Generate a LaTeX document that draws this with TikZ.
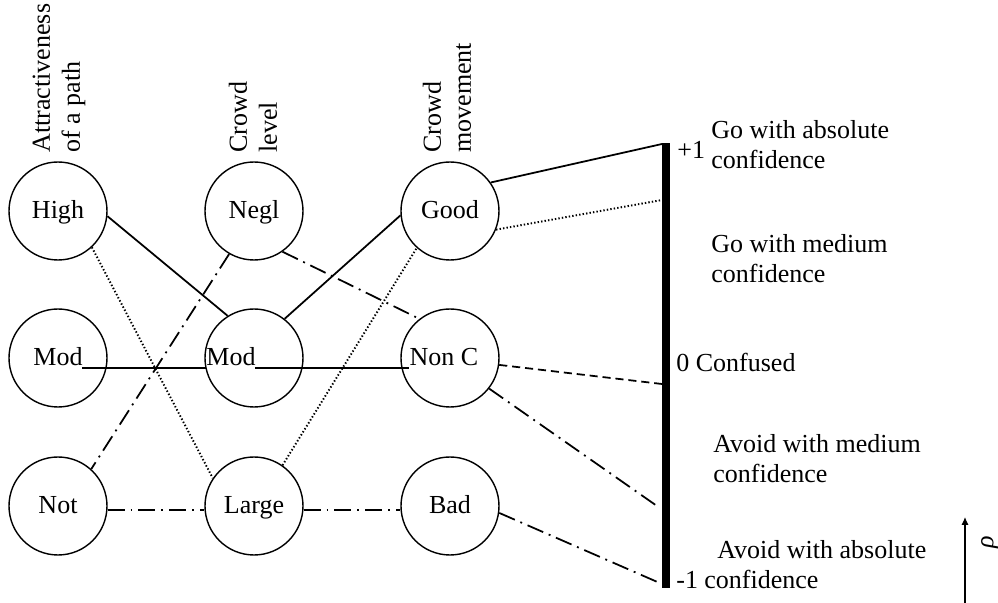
\documentclass[tikz,border=0pt]{standalone}
\usepackage{fontspec}
\setmainfont{Liberation Serif}
\usetikzlibrary{arrows.meta}

\tikzset{
  state/.style={draw, circle, line width=0.8pt, minimum size=1.96cm, inner sep=0pt},
  every label/.style={inner sep=0pt, text height=0.8em, text depth=0pt},
  link/.style={line width=1pt},
  dots/.style={line width=1.1pt, dash pattern=on 0.8pt off 1.2pt},
  dashes/.style={line width=1pt, dash pattern=on 4.6pt off 2.8pt},
  dashdot/.style={line width=1pt, dash pattern=on 9.7pt off 3.4pt on 1.1pt off 3.4pt},
  heading/.style={rotate=90, anchor=west, align=left, inner sep=0pt},
  verdict/.style={anchor=north west, align=left, inner sep=0pt},
  mark label/.style={anchor=west, inner sep=0pt}
}

\begin{document}
\begin{tikzpicture}[font=\fontsize{14.8}{17}\selectfont]
  \useasboundingbox (0,0) rectangle (19.96,12.06);

  % fuzzy sets
  \foreach \name/\txt/\x/\y/\dx in {high/High/1.16/7.84/0, modA/Mod/1.16/4.90/0,
      notp/Not/1.16/1.94/0, negl/Negl/5.08/7.84/0, modB/Mod/5.08/4.90/-0.46,
      large/Large/5.08/1.94/0, good/Good/9.0/7.84/0, nonc/Non C/9.0/4.90/-0.12,
      bad/Bad/9.0/1.94/0} {
    \node[state, label={[xshift=\dx cm]center:\txt}] (\name) at (\x,\y) {};
  }

  % inputs
  \node[heading] (attr) at (1.18,9.0) {Attractiveness\\of a path};
  \node[heading] (level) at (5.06,9.0) {Crowd\\level};
  \node[heading] (move) at (8.94,9.0) {Crowd\\movement};

  % decision scale
  \fill (13.24,0.30) rectangle (13.40,9.2);
  \coordinate (pos1) at (13.24,9.18);
  \coordinate (gomed) at (13.24,8.06);
  \coordinate (zero) at (13.24,4.38);
  \coordinate (avmed) at (13.14,1.94);
  \coordinate (neg1) at (13.24,0.38);

  \node[mark label] (plus) at (13.54,9.06) {+1};
  \node[verdict] (goabs) at (14.22,9.66) {Go with absolute\\confidence};
  \node[verdict] (gomedtxt) at (14.22,7.38) {Go with medium\\confidence};
  \node[mark label] (confused) at (13.52,4.82) {0 Confused};
  \node[verdict] (avmedtxt) at (14.26,3.38) {Avoid with medium\\confidence};
  \node[verdict] (avabs) at (14.08,1.26) {\hspace*{0.26cm}Avoid with absolute\\confidence};
  \node[mark label] (minus) at (13.52,0.46) {-1};

  % rho
  \coordinate (rhofoot) at (19.3,-0.1);
  \coordinate (rhotip) at (19.3,1.72);
  \draw[line width=0.6pt, -{Latex[length=4.5pt,width=4pt]}] (rhofoot) -- (rhotip);
  \node[rotate=90, inner sep=0pt] (rho) at (19.8,1.22) {\itshape ρ};

  % solid
  \draw[link] (high.-6) -- (modB.122);
  \draw[link] (modB.52) -- (good.185);
  \draw[link] (good.35) -- (pos1);

  % dotted
  \draw[dots] (high.-47) -- (large.146);
  \draw[dots] (large.55) -- (good.228);
  \draw[dots] (good.-22) -- (gomed);

  % dash-dotted
  \draw[dashdot] (negl.-120) -- (notp.48);
  \draw[dashdot] (negl.-55) -- (nonc.128);
  \draw[dashdot] (notp.-5) -- (large.185);
  \draw[dashdot] (large.-5) -- (bad.185);
  \draw[dashdot] (nonc.-38) -- (avmed);
  \draw[dashdot] (bad.-8) -- (neg1);

  % dashed
  \draw[dashes] (nonc.-8) -- (zero);

  % thin lines through the Mod row
  \draw[line width=0.6pt] ([xshift=0.48cm,yshift=-0.2cm]modA.center) -- ([xshift=0.04cm,yshift=-0.2cm]modB.west);
  \draw[line width=0.6pt] ([xshift=0.02cm,yshift=-0.2cm]modB.center) -- ([xshift=0.18cm,yshift=-0.2cm]nonc.west);
\end{tikzpicture}
\end{document}
